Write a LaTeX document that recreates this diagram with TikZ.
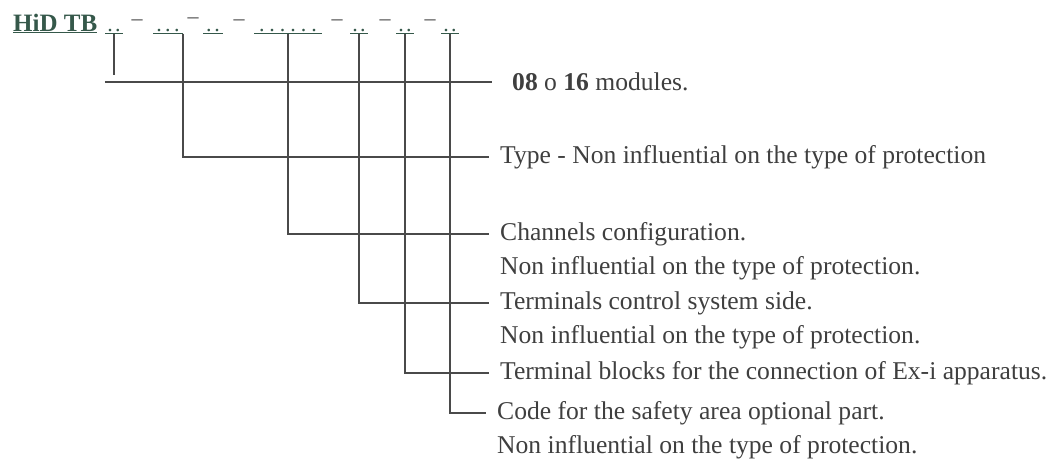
\documentclass[tikz,border=0pt]{standalone}
\usepackage{fontspec}
\setmainfont{Liberation Serif}
\usetikzlibrary{positioning}
\definecolor{tinta}{HTML}{3F3F3F}
\definecolor{traco}{HTML}{4A4A4A}
\definecolor{verdecod}{HTML}{35584A}
\tikzset{
    rotulo/.style={
        anchor=west,
        inner xsep=11pt,
        inner ysep=0pt,
        text=tinta,
        font=\fontsize{25.6}{30}\selectfont
    },
    campo/.style={inner sep=0pt, anchor=base, text=verdecod, font=\fontsize{22}{26}\selectfont},
    hifen/.style={inner sep=0pt, text=traco, font=\fontsize{22}{26}\selectfont},
    ligacao/.style={draw=traco, line width=1.6pt}
}
% n casas vazias sublinhadas, largura total #1
\newcommand{\casas}[2]{\underline{\makebox[#1][s]{\hfil#2\hfil}}}

\begin{document}
\begin{tikzpicture}[x=1pt, y=-1pt]
    \useasboundingbox (0,0) rectangle (1053,463);

    % codigo do produto
    \node[campo, anchor=base west, font=\bfseries\fontsize{25}{30}\selectfont] (cod) at (13,31) {\underline{HiD TB}};
    \node[campo] (s1) at (114,31) {\casas{18pt}{.\hfil.}};
    \node[hifen] (h1) at (137,23) {--};
    \node[campo] (s2a) at (168,31) {\casas{30pt}{.\hfil.\hfil.}};
    \node[hifen] (h2) at (193,21) {--};
    \node[campo] (s2b) at (213,31) {\casas{20pt}{.\hfil.}};
    \node[hifen] (h3) at (239,23) {--};
    \node[campo] (s3) at (288,31) {\casas{68pt}{.\hfil.\hfil.\hfil.\hfil.\hfil.}};
    \node[hifen] (h4) at (337,23) {--};
    \node[campo] (s4) at (359,31) {\casas{18pt}{.\hfil.}};
    \node[hifen] (h5) at (385,23) {--};
    \node[campo] (s5) at (405,31) {\casas{18pt}{.\hfil.}};
    \node[hifen] (h6) at (430,23) {--};
    \node[campo] (s6) at (450,31) {\casas{18pt}{.\hfil.}};

    % descricoes
    \node[rotulo, inner xsep=20pt] (modulos) at (492,82) {\textbf{08} o \textbf{16} modules.};
    \node[rotulo] (tipo) at (489,157) {Type - Non influential on the type of protection};
    \node[rotulo] (canais) at (489,234) {Channels configuration.};
    \node[rotulo, anchor=base west] (canais2) at ([yshift=-34pt]canais.base west)
        {Non influential on the type of protection.};
    \node[rotulo] (terminais) at (489,303) {Terminals control system side.};
    \node[rotulo, anchor=base west] (terminais2) at ([yshift=-34pt]terminais.base west)
        {Non influential on the type of protection.};
    \node[rotulo] (blocos) at (489,373) {Terminal blocks for the connection of Ex-i apparatus.};
    \node[rotulo] (opcional) at (486,413) {Code for the safety area optional part.};
    \node[rotulo, anchor=base west] (opcional2) at ([yshift=-34pt]opcional.base west)
        {Non influential on the type of protection.};

    % ligacoes
    \draw[ligacao] (s1.south) -- ++(0,41);
    \draw[ligacao] (s1.south west |- modulos.west) -- (modulos.west);
    \draw[ligacao] (s2a.south east) |- (tipo.west);
    \draw[ligacao] (s3.south) |- (canais.west);
    \draw[ligacao] (s4.south) |- (terminais.west);
    \draw[ligacao] (s5.south) |- (blocos.west);
    \draw[ligacao] (s6.south) |- (opcional.west);
\end{tikzpicture}
\end{document}
